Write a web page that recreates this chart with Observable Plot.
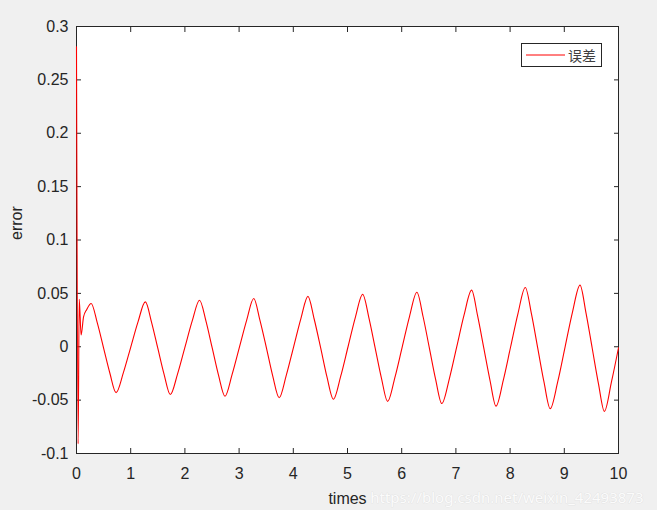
<!DOCTYPE html>
<html><head><meta charset="utf-8">
<script src="https://cdn.jsdelivr.net/npm/d3@7"></script>
<script src="https://cdn.jsdelivr.net/npm/@observablehq/plot@0.6"></script>
<style>
html,body{margin:0;padding:0;background:#f0f0f0;}
#wrap{position:relative;width:657px;height:510px;overflow:hidden;}
#legend{position:absolute;left:521px;top:43px;width:79px;height:22px;border:1px solid #262626;background:#fff;}
#legend svg{position:absolute;left:3px;top:0;}
#legend span{position:absolute;left:46px;top:1px;font:14px "Noto Sans CJK SC",sans-serif;color:#404040;line-height:20px;}
</style></head><body><div id="wrap"></div>
<script>
const times = [
 0, 0.03, 0.05, 0.085, 0.13, 0.19, 0.27,
 0.385, 0.50, 0.615, 0.73,
 0.865, 1.0, 1.135, 1.27,
 1.385, 1.50, 1.615, 1.73,
 1.865, 2.0, 2.135, 2.27,
 2.39, 2.505, 2.62, 2.74,
 2.87, 3.005, 3.14, 3.27,
 3.385, 3.505, 3.62, 3.74,
 3.87, 4.005, 4.14, 4.27,
 4.385, 4.505, 4.62, 4.74,
 4.875, 5.01, 5.145, 5.28,
 5.395, 5.51, 5.625, 5.74,
 5.875, 6.01, 6.145, 6.28,
 6.395, 6.51, 6.625, 6.74,
 6.88, 7.015, 7.15, 7.29,
 7.40, 7.515, 7.63, 7.74,
 7.875, 8.01, 8.145, 8.28,
 8.395, 8.51, 8.625, 8.74,
 8.88, 9.015, 9.15, 9.29,
 9.40, 9.515, 9.63, 9.74,
 9.87, 10.0
];
const errors = [
 0.281, -0.091, 0.0445, 0.011, 0.028, 0.035, 0.0405,
 0.0221, -0.0013, -0.0246, -0.0430,
 -0.0243, -0.0005, 0.0233, 0.0420,
 0.0229, -0.0014, -0.0257, -0.0448,
 -0.0254, -0.0006, 0.0242, 0.0436,
 0.0238, -0.0014, -0.0266, -0.0464,
 -0.0262, -0.0006, 0.0250, 0.0452,
 0.0247, -0.0013, -0.0273, -0.0478,
 -0.0269, -0.0003, 0.0263, 0.0472,
 0.0260, -0.0010, -0.0280, -0.0492,
 -0.0276, 0.0000, 0.0276, 0.0492,
 0.0271, -0.0010, -0.0291, -0.0512,
 -0.0287, -0.0001, 0.0285, 0.0510,
 0.0281, -0.0011, -0.0303, -0.0532,
 -0.0298, -0.0001, 0.0296, 0.0530,
 0.0291, -0.0013, -0.0317, -0.0556,
 -0.0312, 0.0000, 0.0311, 0.0555,
 0.0305, -0.0013, -0.0330, -0.0580,
 -0.0325, -0.0001, 0.0322, 0.0577,
 0.0317, -0.0014, -0.0345, -0.0605,
 -0.033, -0.001
];
const xTicks = [0,1,2,3,4,5,6,7,8,9,10];
const xTickLabels = ["0","1","2","3","4","5","6","7","8","9","10"];
const yTicks = [-0.1,-0.05,0,0.05,0.1,0.15,0.2,0.25,0.3];
const yTickLabels = ["-0.1","-0.05","0","0.05","0.1","0.15","0.2","0.25","0.3"];
const seriesName = "误差";
const xLabel = "times";
const yLabel = "error";
const watermark = "https://blog.csdn.net/weixin_42493873";

const data = times.map((t, i) => ({t, e: errors[i]}));
const fmtX = d => xTickLabels[xTicks.indexOf(d)];
const fmtY = d => yTickLabels[yTicks.findIndex(v => Math.abs(v - d) < 1e-9)];
const ink = "#262626";

const plot = Plot.plot({
  width: 657, height: 510,
  marginLeft: 76, marginRight: 39, marginTop: 26, marginBottom: 57,
  style: {background: "transparent", fontFamily: "Arial, 'Liberation Sans', sans-serif", fontSize: "16px", color: ink},
  x: {domain: [0, 10]},
  y: {domain: [-0.1, 0.3]},
  marks: [
    Plot.frame({fill: "white", stroke: null}),
    Plot.axisX(xTicks, {anchor: "bottom", tickSize: 0, tickPadding: 14, tickFormat: fmtX, label: null, fill: ink}),
    Plot.axisX(xTicks, {anchor: "bottom", tickSize: -5, tickFormat: () => "", label: null, stroke: ink}),
    Plot.axisX(xTicks, {anchor: "top", tickSize: -5, tickFormat: () => "", label: null, stroke: ink}),
    Plot.axisY(yTicks, {anchor: "left", tickSize: 0, tickPadding: 8, tickFormat: fmtY, label: null, fill: ink}),
    Plot.axisY(yTicks, {anchor: "left", tickSize: -5, tickFormat: () => "", label: null, stroke: ink}),
    Plot.axisY(yTicks, {anchor: "right", tickSize: -5, tickFormat: () => "", label: null, stroke: ink}),
    Plot.frame({stroke: ink, strokeWidth: 1}),
    Plot.line(data, {x: "t", y: "e", stroke: "#ff0000", strokeWidth: 1.1, curve: "monotone-x"}),
    Plot.text([xLabel], {frameAnchor: "bottom", lineAnchor: "bottom", dy: 50, fill: ink, fontSize: 16}),
    Plot.text([yLabel], {frameAnchor: "left", lineAnchor: "middle", rotate: -90, dx: -60, fill: ink, fontSize: 16}),
    Plot.text([watermark], {frameAnchor: "bottom-right", textAnchor: "end", lineAnchor: "bottom", dx: 25, dy: 49, fill: "#fbfbfb", stroke: "#dcdcdc", strokeWidth: 0.6, fontSize: 15, fontFamily: "'Noto Sans', sans-serif"})
  ]
});
const wrap = document.getElementById("wrap");
wrap.appendChild(plot);
const lg = document.createElement("div");
lg.id = "legend";
lg.innerHTML = '<svg width="42" height="22"><line x1="1" x2="40" y1="11" y2="11" stroke="#ff0000" stroke-width="1"/></svg><span></span>';
lg.querySelector("span").textContent = seriesName;
wrap.appendChild(lg);
</script></body></html>
